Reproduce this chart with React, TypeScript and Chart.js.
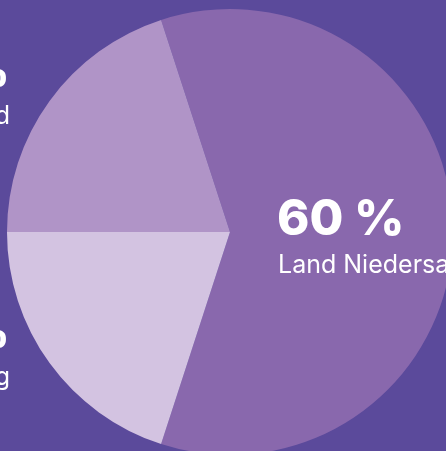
import React, { useEffect, useRef } from "react";
import { Chart, registerables } from "chart.js";

Chart.register(...registerables);

const categories = ["Land Niedersachsen", "Stiftung", "Bund"];
const shares = [60, 20, 20];
const percentLabels = ["60 %", "20 %", "20 %"];
const sliceColors = ["#8968ad", "#d3c3e1", "#b094c7"];

const BG = "#5b4a9b";
const FONT = "Inter, 'Open Sans', sans-serif";

const labelPlugin = {
  id: "labels",
  afterDraw(chart: any) {
    const ctx = chart.ctx;
    ctx.save();
    ctx.fillStyle = "#ffffff";
    ctx.textBaseline = "alphabetic";
    // main label (inside big slice)
    ctx.textAlign = "left";
    ctx.font = `800 49px ${FONT}`;
    ctx.fillText(percentLabels[0], 277, 235);
    ctx.font = `25px ${FONT}`;
    ctx.fillText(categories[0], 278, 273);
    // left labels (mostly outside the window)
    ctx.textAlign = "right";
    ctx.font = `800 49px ${FONT}`;
    ctx.fillText(percentLabels[2], 10, 86);
    ctx.fillText(percentLabels[1], 10, 347);
    ctx.font = `25px ${FONT}`;
    ctx.fillText(categories[2], 10, 124);
    ctx.fillText(categories[1], 10, 385);
    ctx.restore();
  },
};

export default function App() {
  const ref = useRef<HTMLCanvasElement>(null);
  useEffect(() => {
    if (!ref.current) return;
    const chart = new Chart(ref.current, {
      type: "pie",
      data: {
        labels: categories,
        datasets: [
          {
            data: shares,
            backgroundColor: sliceColors,
            borderWidth: 0,
          },
        ],
      },
      options: {
        responsive: false,
        maintainAspectRatio: false,
        animation: false,
        rotation: -18,
        layout: { padding: { left: 7, right: 7, top: 9, bottom: 9 } },
        plugins: {
          legend: { display: false },
          tooltip: { enabled: false },
        },
      },
      plugins: [labelPlugin],
    });
    return () => chart.destroy();
  }, []);
  return (
    <div
      style={{
        position: "fixed",
        left: 0,
        top: 0,
        width: 446,
        height: 451,
        overflow: "hidden",
        background: BG,
      }}
    >
      <canvas
        ref={ref}
        width={460}
        height={464}
        style={{ position: "absolute", left: 0, top: 0, width: 460, height: 464 }}
      />
    </div>
  );
}
